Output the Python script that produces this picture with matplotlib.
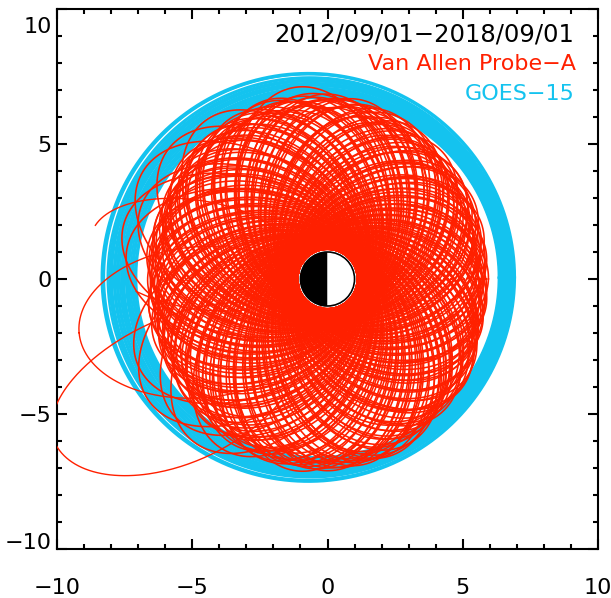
import numpy as np
import matplotlib.pyplot as plt
from matplotlib.patches import Wedge, Circle
from matplotlib.ticker import MultipleLocator
from matplotlib.transforms import ScaledTranslation

RED = '#ff2000'
CYAN = '#14c3ef'

# Van Allen Probe-A orbits: apogee direction (deg) and apogee distance (Re)
rbsp_apogee_deg = [
    0.8, 3.1, 5.6, 7.4, 10.2, 12.9, 15.1, 17.8, 20.3, 22.6, 25.4, 27.7,
    30.2, 32.8, 35.1, 37.3, 40.6, 42.9, 45.2, 47.5, 50.1, 52.8, 55.4, 57.6,
    60.3, 62.7, 65.0, 67.9, 70.2, 72.4, 75.3, 77.6, 80.1, 82.5, 85.2, 87.9,
    90.4, 92.6, 95.1, 97.8, 100.3, 102.5, 105.2, 107.7, 110.0, 112.8, 115.3, 117.4,
    120.2, 122.9, 125.4, 127.6, 130.1, 132.7, 135.3, 137.5, 140.2, 142.8, 145.0, 147.6,
    150.3, 152.6, 155.2, 157.9, 160.1, 162.4, 165.3, 167.7, 170.2, 172.5, 175.1, 177.8,
    180.4, 182.7, 185.0, 187.6, 190.3, 192.8, 195.1, 197.4, 200.2, 202.9, 205.3, 207.5,
    210.1, 212.6, 215.4, 217.8, 220.0, 222.7, 225.3, 227.6, 230.2, 232.4, 235.1, 237.9,
    240.3, 242.5, 245.2, 247.7, 250.1, 252.8, 255.4, 257.6, 260.0, 262.7, 265.3, 267.8,
    270.2, 272.5, 275.1, 277.9, 280.4, 282.6, 285.3, 287.5, 290.1, 292.8, 295.2, 297.6,
    300.3, 302.7, 305.0, 307.4, 310.2, 312.9, 315.1, 317.5, 320.3, 322.6, 325.2, 327.8,
    330.1, 332.6, 335.4, 337.7, 340.2, 342.5, 345.3, 347.8, 350.0, 352.6, 355.2, 357.7,
]
rbsp_apogee_re = [
    5.95, 5.70, 5.85, 5.55, 5.95, 5.75, 5.50, 5.85, 6.05, 5.70, 5.95, 5.65,
    6.15, 5.90, 6.10, 5.80, 6.20, 6.00, 5.80, 6.15, 6.35, 6.00, 6.25, 5.95,
    6.45, 6.20, 6.40, 6.10, 6.60, 6.40, 6.15, 6.55, 6.75, 6.40, 6.65, 6.35,
    6.85, 6.60, 6.75, 6.45, 6.85, 6.70, 6.40, 6.80, 7.00, 6.60, 6.85, 6.55,
    6.95, 6.70, 6.85, 6.55, 6.90, 6.75, 6.45, 6.80, 6.95, 6.55, 6.80, 6.50,
    6.75, 6.50, 6.65, 6.35, 6.70, 6.55, 6.25, 6.60, 6.75, 6.40, 6.60, 6.30,
    6.65, 6.40, 6.55, 6.30, 6.70, 6.50, 6.25, 6.60, 6.80, 6.45, 6.70, 6.40,
    6.75, 6.50, 6.65, 6.35, 6.80, 6.60, 6.35, 6.75, 6.95, 6.60, 6.85, 6.55,
    7.05, 6.80, 6.95, 6.65, 7.05, 6.90, 6.60, 7.00, 7.20, 6.85, 7.05, 6.75,
    7.10, 6.85, 7.00, 6.70, 7.00, 6.85, 6.55, 6.90, 6.95, 6.60, 6.80, 6.45,
    6.55, 6.30, 6.45, 6.15, 6.50, 6.30, 6.05, 6.35, 6.40, 6.10, 6.30, 6.00,
    6.10, 5.85, 5.95, 5.70, 6.00, 5.85, 5.60, 5.90, 5.95, 5.70, 5.90, 5.60,
]
rbsp_perigee_re = 1.1

# later passes with a slightly higher perigee
rbsp_late_deg = [
    1.9, 6.7, 11.6, 16.4, 21.5, 26.3, 31.4, 36.2, 41.7, 46.3, 51.2, 56.5,
    61.4, 66.3, 71.3, 76.4, 81.2, 86.6, 91.5, 96.4, 101.6, 106.3, 111.5, 116.2,
    121.3, 126.6, 131.4, 136.4, 141.5, 146.2, 151.4, 156.6, 161.3, 166.5, 171.4, 176.3,
    181.5, 186.4, 191.6, 196.2, 201.5, 206.4, 211.3, 216.6, 221.4, 226.5, 231.3, 236.6,
    241.4, 246.3, 251.5, 256.6, 261.2, 266.5, 271.4, 276.6, 281.5, 286.3, 291.4, 296.5,
    301.6, 306.3, 311.4, 316.5, 321.3, 326.6, 331.4, 336.5, 341.3, 346.6, 351.5, 356.4,
]
rbsp_late_re = [
    5.80, 5.60, 5.90, 5.65, 5.95, 5.75, 6.05, 5.85, 6.20, 5.95, 6.10, 6.25,
    6.30, 6.55, 6.25, 6.60, 6.45, 6.70, 6.65, 6.90, 6.50, 6.75, 6.95, 6.60,
    6.85, 6.60, 6.90, 6.70, 6.85, 6.55, 6.60, 6.45, 6.70, 6.35, 6.65, 6.50,
    6.55, 6.35, 6.70, 6.45, 6.60, 6.50, 6.70, 6.45, 6.85, 6.60, 6.90, 6.70,
    6.95, 6.75, 7.10, 6.85, 7.00, 6.80, 7.00, 6.80, 6.90, 6.65, 6.85, 6.60,
    6.45, 6.20, 6.40, 6.10, 6.35, 6.15, 6.05, 5.80, 5.95, 5.70, 5.90, 5.75,
]
rbsp_late_perigee_re = 1.25

# orbits that reached further out
rbsp_wide_deg = [100, 128, 140, 150, 158, 165, 172, 205, 214, 222, 230, 238]
rbsp_wide_re = [7.2, 7.4, 7.6, 7.9, 7.4, 7.8, 7.5, 7.7, 8.0, 7.6, 7.8, 7.4]

# stray loops: centre, half-length, half-widths (one side / other side),
# tilt (deg), arc start/end (deg)
stray_cx = [-4.7, -5.6, -4.8]
stray_cy = [-1.6, -3.96, 0.9]
stray_a = [4.5, 4.95, 4.0]
stray_b_up = [2.8, 2.5, 2.0]
stray_b_down = [2.8, 2.85, 2.0]
stray_tilt = [185, 205, 170]
stray_t0 = [0, 0, -12]
stray_t1 = [360, 360, -300]

# GOES-15 passes: centre and radii (Re)
goes_cx = [-0.37, -0.38, -0.40, -0.41, -0.43, -0.44, -0.46, -0.47, -0.49, -0.50, -0.52, -0.53,
           -0.55, -0.56, -0.58, -0.59, -0.61, -0.62, -0.64, -0.65, -0.69, -0.70, -0.71]
goes_cy = [0.05, 0.04, 0.06, 0.05, 0.05, 0.07, 0.04, 0.06, 0.05, 0.06, 0.04, 0.07,
           0.05, 0.06, 0.05, 0.07, 0.06, 0.05, 0.07, 0.06, 0.07, 0.06, 0.06]
goes_rx = [6.70, 6.74, 6.78, 6.82, 6.86, 6.91, 6.94, 6.98, 7.03, 7.07, 7.10, 7.15,
           7.19, 7.23, 7.27, 7.31, 7.36, 7.40, 7.43, 7.48, 7.57, 7.60, 7.64]
goes_ry = [6.65, 6.69, 6.73, 6.77, 6.81, 6.85, 6.89, 6.93, 6.97, 7.01, 7.05, 7.09,
           7.13, 7.17, 7.21, 7.25, 7.29, 7.33, 7.37, 7.41, 7.51, 7.53, 7.57]

fig = plt.figure(figsize=(6.11, 5.98), dpi=100)
ax = fig.add_axes([57 / 611, 1 - 549 / 598, 541 / 611, 540 / 598])

t = np.linspace(0, 2 * np.pi, 400)

# GOES-15 ring
for cx, cy, rx, ry in zip(goes_cx, goes_cy, goes_rx, goes_ry):
    ax.plot(cx + rx * np.cos(t), cy + ry * np.sin(t), color=CYAN, lw=1.6, zorder=2)


# Van Allen Probe-A rosette, Earth at the focus
def orbit(apo_deg, ra, rp):
    e = (ra - rp) / (ra + rp)
    p = 2 * ra * rp / (ra + rp)
    r = p / (1 - e * np.cos(t - np.radians(apo_deg)))
    return r * np.cos(t), r * np.sin(t)


passes = ([(a, r, rbsp_perigee_re) for a, r in zip(rbsp_apogee_deg, rbsp_apogee_re)]
          + [(a, r, rbsp_late_perigee_re) for a, r in zip(rbsp_late_deg, rbsp_late_re)]
          + [(a, r, rbsp_perigee_re) for a, r in zip(rbsp_wide_deg, rbsp_wide_re)])
for ang, ra, rp in passes:
    x, y = orbit(ang, ra, rp)
    ax.plot(x, y, color=RED, lw=1.15, zorder=3)

for cx, cy, a, b1, b2, tilt, t0, t1 in zip(stray_cx, stray_cy, stray_a, stray_b_up,
                                           stray_b_down, stray_tilt, stray_t0, stray_t1):
    s = np.radians(np.linspace(t0, t1, 300))
    phi = np.radians(tilt)
    u = a * np.cos(s)
    v = np.where(np.sin(s) < 0, b1, b2) * np.sin(s)
    x = cx + u * np.cos(phi) - v * np.sin(phi)
    y = cy + u * np.sin(phi) + v * np.cos(phi)
    ax.plot(x, y, color=RED, lw=1.0, zorder=3)

# Earth: night side black, day side white
ax.add_patch(Wedge((0, 0), 1, 90, 270, facecolor='black', edgecolor='none', zorder=5))
ax.add_patch(Wedge((0, 0), 1, 270, 90, facecolor='white', edgecolor='none', zorder=5))
ax.add_patch(Circle((0, 0), 1, facecolor='none', edgecolor='black', lw=1.2, zorder=6))

ax.set_xlim(-10, 10)
ax.set_ylim(-10, 10)
ax.set_xticks([-10, -5, 0, 5, 10])
ax.set_yticks([-10, -5, 0, 5, 10])
ax.xaxis.set_minor_locator(MultipleLocator(1))
ax.yaxis.set_minor_locator(MultipleLocator(1))
ax.tick_params(which='both', direction='in', top=True, right=True, width=1.5,
               labelsize=16)
ax.tick_params(which='major', length=7.5)
ax.tick_params(which='minor', length=3.8)
ax.tick_params(axis='x', pad=21)
ax.tick_params(axis='y', pad=4)
for sp in ax.spines.values():
    sp.set_linewidth(1.5)

ylabels = ax.get_yticklabels()
ylabels[-1].set_va('top')
ylabels[-1].set_transform(ylabels[-1].get_transform()
                          + ScaledTranslation(0, -0.08, fig.dpi_scale_trans))
ylabels[0].set_va('baseline')

ax.text(0.955, 0.953, '2012/09/01\u22122018/09/01', transform=ax.transAxes,
        ha='right', va='center', fontsize=17.5, color='black')
ax.text(0.960, 0.899, 'Van Allen Probe\u2212A', transform=ax.transAxes,
        ha='right', va='center', fontsize=16, color=RED)
ax.text(0.956, 0.843, 'GOES\u221215', transform=ax.transAxes,
        ha='right', va='center', fontsize=16, color=CYAN)

fig.savefig('out.png', dpi=100)
